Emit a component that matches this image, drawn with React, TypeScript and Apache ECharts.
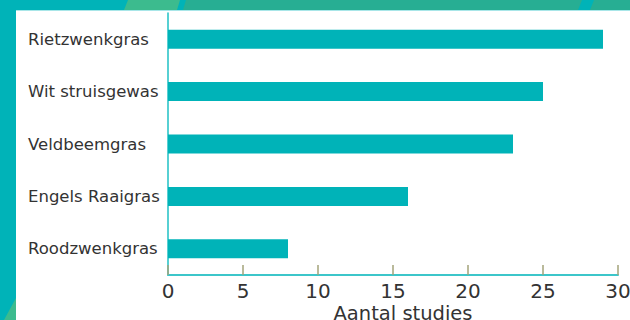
import React, { useEffect, useRef } from "react";
import * as echarts from "echarts";

const categories = ["Rietzwenkgras", "Wit struisgewas", "Veldbeemgras", "Engels Raaigras", "Roodzwenkgras"];
const studies = [29, 25, 23, 16, 8];
const xTicks = [0, 5, 10, 15, 20, 25, 30];

const TEAL = "#00B3B8";
const GREEN = "#27AE93";
const LIGHT_GREEN = "#3CBB8E";
const FONT = "DejaVu Sans";

export default function App() {
  const ref = useRef<HTMLDivElement>(null);
  useEffect(() => {
    if (!ref.current) return;
    const chart = echarts.init(ref.current, undefined, { renderer: "svg" });
    chart.setOption({
      animation: false,
      backgroundColor: "#ffffff",
      graphic: [
        { type: "rect", z: -10, shape: { x: 0, y: 0, width: 16, height: 320 }, style: { fill: TEAL } },
        { type: "polygon", z: -9, shape: { points: [[4, 320], [16, 298], [16, 320]] }, style: { fill: LIGHT_GREEN } },
        { type: "rect", z: -10, shape: { x: 0, y: 0, width: 630, height: 10 }, style: { fill: TEAL } },
        { type: "polygon", z: -9, shape: { points: [[128, 0], [180, 0], [177, 10], [124, 10]] }, style: { fill: LIGHT_GREEN } },
        { type: "polygon", z: -9, shape: { points: [[186, 0], [582, 0], [578, 10], [183, 10]] }, style: { fill: GREEN } },
        { type: "polygon", z: -9, shape: { points: [[594, 0], [630, 0], [630, 10], [590, 10]] }, style: { fill: GREEN } },
        { type: "rect", z: -9, shape: { x: 16, y: 10, width: 614, height: 1 }, style: { fill: "#a8e6e8" } },
      ],
      grid: { left: 168, right: 12, top: 13, bottom: 45, containLabel: false, outerBoundsMode: "none" },
      xAxis: {
        type: "value",
        min: 0,
        max: 30,
        interval: 5,
        data: xTicks,
        splitLine: { show: false },
        axisLine: { show: true, lineStyle: { color: "#3cc6ca", width: 2 } },
        axisTick: { show: true, inside: true, length: 10, lineStyle: { color: "#a3a37a", width: 1.5 } },
        axisLabel: { fontSize: 20, color: "#333333", fontFamily: FONT, margin: 6 },
        name: "Aantal studies",
        nameLocation: "middle",
        nameGap: 28,
        nameMoveOverlap: false,
        nameTextStyle: { fontSize: 19.5, color: "#333333", fontFamily: FONT, padding: [0, 0, 0, 20] },
      },
      yAxis: {
        type: "category",
        inverse: true,
        data: categories,
        axisLine: { show: true, lineStyle: { color: "#1fc0c5", width: 1.5 } },
        axisTick: { show: false },
        axisLabel: { align: "left", margin: 140, fontSize: 16.5, color: "#333333", fontFamily: FONT },
      },
      series: [
        {
          type: "bar",
          data: studies,
          barWidth: 19,
          itemStyle: { color: TEAL },
        },
      ],
    });
    return () => chart.dispose();
  }, []);
  return <div ref={ref} style={{ position: "fixed", left: 0, top: 0, width: 630, height: 320 }} />;
}
